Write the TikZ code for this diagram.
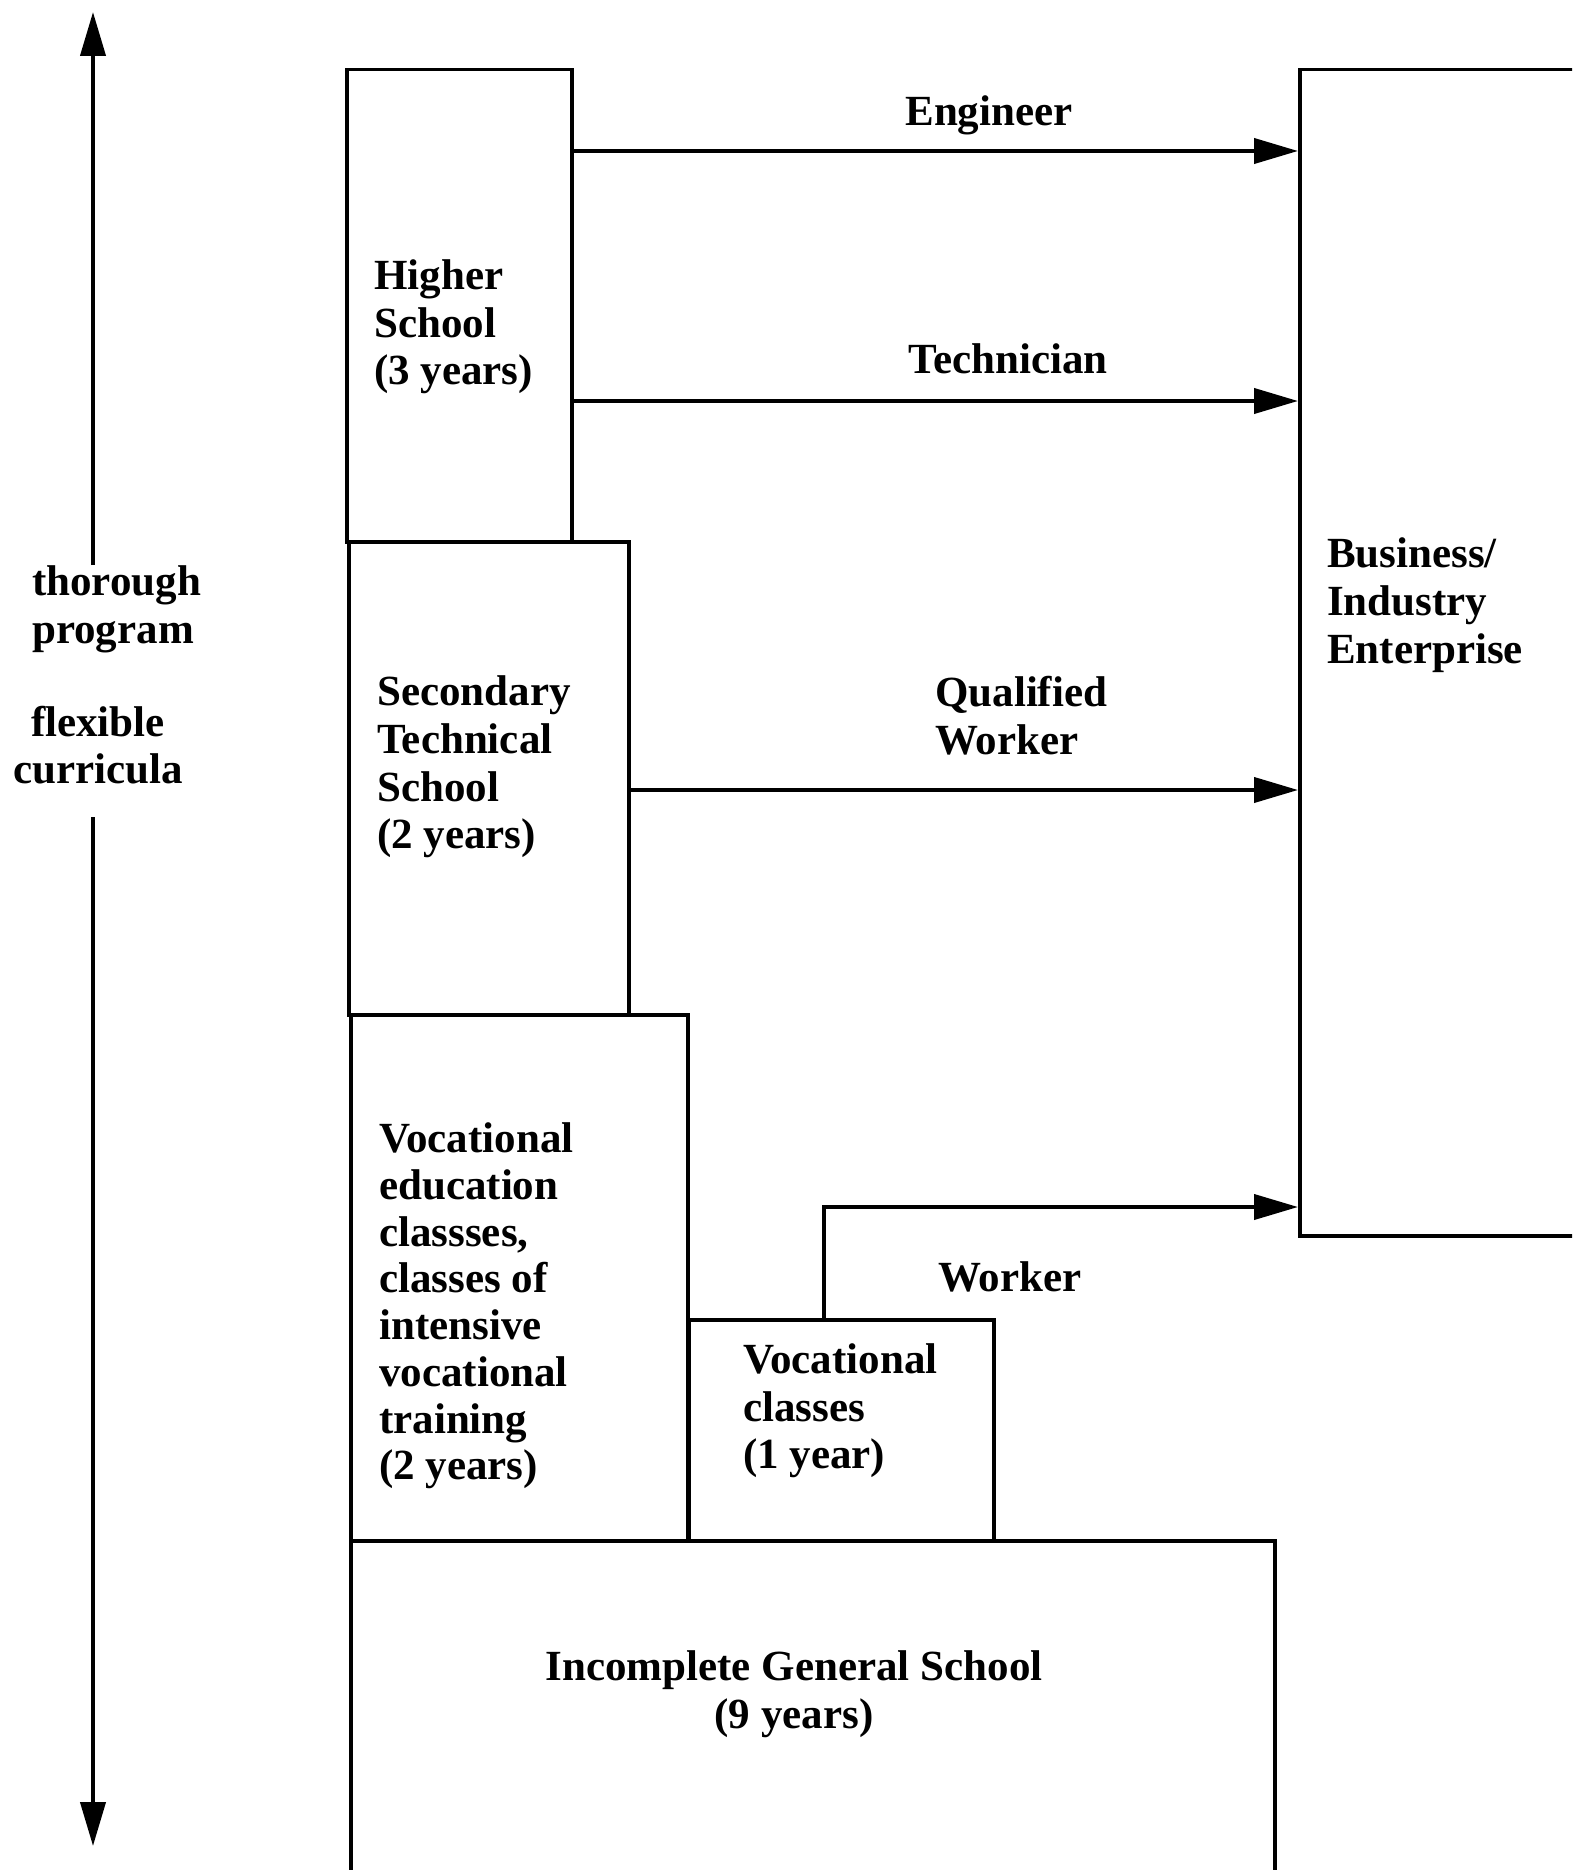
\documentclass[tikz,border=0pt]{standalone}
\usepackage{fontspec}
\setmainfont{Liberation Serif}
\usetikzlibrary{arrows.meta}
\begin{document}
\begin{tikzpicture}[x=1pt,y=-1pt,
  every node/.style={font=\fontsize{43pt}{47.7pt}\selectfont\bfseries},
  box/.style={draw,line width=3.5pt,anchor=north west,inner sep=0pt},
  label/.style={inner sep=0pt,align=left},
  conn/.style={line width=4pt,-{Triangle[length=44pt,width=25pt]}}]
\clip (0,0) rectangle (1572,1870);
\fill[white] (0,0) rectangle (1572,1870);

% school blocks
\node[box,minimum width=225pt,minimum height=472pt] (higher) at (345,68) {};
\node[box,minimum width=280pt,minimum height=473pt] (sec) at (347,540) {};
\node[box,minimum width=337pt,minimum height=526pt] (voced) at (349,1013) {};
\node[box,minimum width=305pt,minimum height=221pt] (vclass) at (687,1318) {};
\node[box,minimum width=924pt,minimum height=360pt] (general) at (349,1539) {};
\node[box,minimum width=320pt,minimum height=1166pt] (biz) at (1298,68) {};

% block texts
\node[label,anchor=west] (thigher) at (374,327) {Higher\\School\\(3 years)};
\node[label,anchor=west] (tsec) at (377,767) {Secondary\\Technical\\School\\(2 years)};
\node[label,anchor=west,font=\fontsize{43pt}{46.7pt}\selectfont\bfseries] (tvoced) at (379,1306) {Vocational\\education\\classses,\\classes of\\intensive\\vocational\\training\\(2 years)};
\node[label,anchor=west] (tvclass) at (743,1411) {Vocational\\classes\\(1 year)};
\node[label,align=center] (tgeneral) at (794,1694) {Incomplete General School\\(9 years)};
\node[label,anchor=west] (tbiz) at (1327,605) {Business/\\Industry\\Enterprise};

% side scale
\node[label,anchor=west] (thor) at (32,609) {thorough\\program};
\node[label,align=center] (flex) at (98,745) {flexible\\curricula};
\coordinate (uptip) at (93,12);
\coordinate (upend) at (93,565);
\coordinate (lowend) at (93,817);
\coordinate (lowtip) at (93,1846);
\draw[conn] (upend) -- (uptip);
\draw[conn] (lowend) -- (lowtip);

% routes into work
\coordinate (engy) at (0,151);
\coordinate (techy) at (0,401);
\coordinate (qualy) at (0,790);
\coordinate (worky) at (0,1207);
\coordinate (workx) at (824,0);
\draw[conn] (higher.east |- engy) -- (biz.west |- engy);
\draw[conn] (higher.east |- techy) -- (biz.west |- techy);
\draw[conn] (sec.east |- qualy) -- (biz.west |- qualy);
\draw[conn] (vclass.north -| workx) |- (biz.west |- worky);

% route labels
\node[label] (leng) at (989,115) {Engineer};
\node[label] (ltech) at (1008,359) {Technician};
\node[label,anchor=west] (lqual) at (935,716) {Qualified\\Worker};
\node[label] (lwork) at (1010,1277) {Worker};
\end{tikzpicture}
\end{document}
